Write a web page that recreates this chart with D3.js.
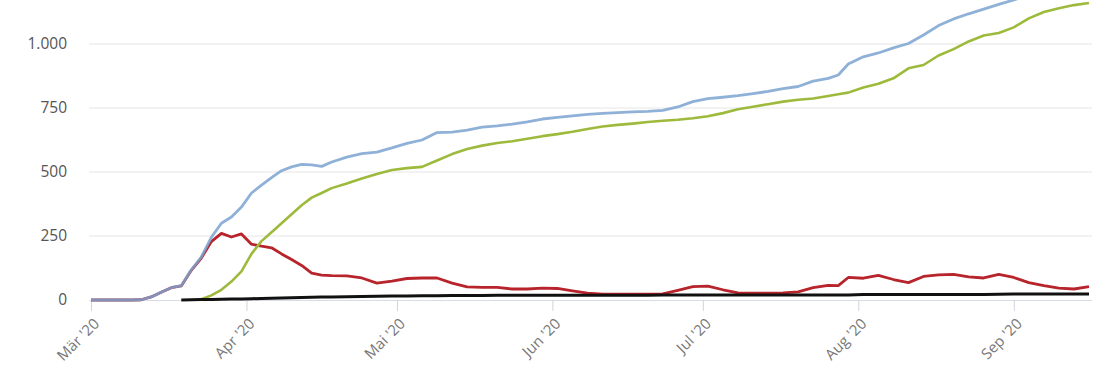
<!DOCTYPE html>
<html>
<head>
<meta charset="utf-8">
<script src="https://cdn.jsdelivr.net/npm/d3@7"></script>
<style>
  html, body { margin: 0; padding: 0; background: #fff; }
  svg { display: block; }
  text { font-family: "Open Sans", "Noto Sans", sans-serif; }
</style>
</head>
<body>
<svg id="chart" width="1110" height="370"></svg>
<script>
// ---- data ----
const dates = [
  "2020-03-01","2020-03-05","2020-03-09","2020-03-11","2020-03-13","2020-03-15","2020-03-17","2020-03-19","2020-03-21","2020-03-23",
  "2020-03-25","2020-03-27","2020-03-29","2020-03-31","2020-04-02","2020-04-04","2020-04-06","2020-04-08","2020-04-10","2020-04-12",
  "2020-04-14","2020-04-16","2020-04-18","2020-04-21","2020-04-24","2020-04-27","2020-04-30","2020-05-03","2020-05-06","2020-05-09",
  "2020-05-12","2020-05-15","2020-05-18","2020-05-21","2020-05-24","2020-05-27","2020-05-30","2020-06-02","2020-06-05","2020-06-08",
  "2020-06-11","2020-06-14","2020-06-17","2020-06-20","2020-06-23","2020-06-26","2020-06-29","2020-07-02","2020-07-05","2020-07-08",
  "2020-07-11","2020-07-14","2020-07-17","2020-07-20","2020-07-23","2020-07-26","2020-07-28","2020-07-30","2020-08-02","2020-08-05",
  "2020-08-08","2020-08-11","2020-08-14","2020-08-17","2020-08-20","2020-08-23","2020-08-26","2020-08-29","2020-09-01","2020-09-04",
  "2020-09-07","2020-09-10","2020-09-13","2020-09-16"
];

const totalCases = [
  0,0,0,1,12,30,48,56,118,168,
  245,300,324,363,418,449,478,505,520,530,
  528,522,539,558,572,578,594,612,625,654,
  656,664,675,680,687,696,707,713,719,725,
  729,732,735,737,741,754,775,787,792,798,
  806,815,826,834,855,866,879,922,950,965,
  985,1002,1035,1072,1098,1118,1136,1155,1172,1192,
  1212,1230,1248,1262
];

const recovered = [
  null,null,null,null,null,null,null,null,null,3,
  18,40,72,112,180,230,265,300,335,370,
  400,418,437,455,475,492,508,515,520,545,
  570,590,603,613,620,630,640,648,657,668,
  678,684,689,695,700,704,710,718,730,745,
  755,765,775,782,787,797,804,810,830,845,
  866,905,918,955,980,1010,1033,1043,1065,1100,
  1125,1140,1152,1160
];

const active = [
  0,0,0,1,12,30,48,55,116,164,
  228,260,246,258,218,210,204,180,158,135,
  105,97,95,94,86,66,74,84,86,86,
  66,51,49,49,43,43,46,45,36,27,
  23,23,23,23,24,38,52,54,40,28,
  27,27,28,32,48,57,56,88,85,96,
  80,68,92,98,100,90,86,100,88,68,
  56,46,43,52
];

const deaths = [
  null,null,null,null,null,null,null,0,1,2,
  2,3,4,4,5,6,7,8,9,10,
  11,12,12,13,14,15,16,16,17,17,
  18,18,18,19,19,19,19,19,19,19,
  19,19,19,19,20,20,20,20,20,20,
  20,20,20,20,20,20,20,20,21,21,
  21,21,21,21,21,21,21,22,23,23,
  23,23,23,23
];

const yTicks = [0, 250, 500, 750, 1000];
const monthTicks = ["2020-03-01","2020-04-01","2020-05-01","2020-06-01","2020-07-01","2020-08-01","2020-09-01"];
const monthLabels = ["Mär '20","Apr '20","Mai '20","Jun '20","Jul '20","Aug '20","Sep '20"];

// ---- chart ----
const parse = d3.utcParse("%Y-%m-%d");
const svg = d3.select("#chart");

const x = d3.scaleUtc()
  .domain([parse("2020-03-01"), parse("2020-09-16")])
  .range([91, 1089]);
const y = d3.scaleLinear().domain([0, 1000]).range([300, 44]);

const de = d3.formatLocale({decimal: ",", thousands: ".", grouping: [3], currency: ["", " €"]});
const fmt = de.format(",");

// gridlines
svg.append("g").selectAll("line").data(yTicks.filter(v => v > 0)).join("line")
  .attr("x1", 89).attr("x2", 1092)
  .attr("y1", d => y(d)).attr("y2", d => y(d))
  .attr("stroke", "#e6e6e6").attr("stroke-width", 1);

// y axis labels
const yAxis = d3.axisLeft(y).tickValues(yTicks).tickFormat(fmt).tickSize(0).tickPadding(0);
const gy = svg.append("g").attr("transform", "translate(67,0)").call(yAxis);
gy.select(".domain").remove();
gy.selectAll("text").attr("fill", "#555").attr("font-size", "15.5px")
  .attr("font-family", "'Open Sans', 'Noto Sans', sans-serif");

// x axis
const xAxis = d3.axisBottom(x)
  .tickValues(monthTicks.map(parse))
  .tickFormat((d, i) => monthLabels[i])
  .tickSize(11).tickSizeOuter(0);
const gx = svg.append("g").attr("transform", "translate(0,300)").call(xAxis);
gx.select(".domain").attr("d", "M89,0.5H1092").attr("stroke", "#d8dce6");
gx.selectAll(".tick line").attr("stroke", "#d0d4de");
gx.selectAll(".tick text")
  .attr("fill", "#777").attr("font-size", "15px")
  .attr("font-family", "'Open Sans', 'Noto Sans', sans-serif")
  .attr("text-anchor", "end")
  .attr("dy", "0.35em")
  .attr("transform", "translate(5,21) rotate(-45)")
  .attr("y", 0).attr("x", 0);

// lines
svg.append("clipPath").attr("id", "plotclip")
  .append("rect").attr("x", 85).attr("y", -20).attr("width", 1010).attr("height", 325);

const plot = svg.append("g").attr("clip-path", "url(#plotclip)");
const rows = dates.map((d, i) => ({
  date: parse(d), total: totalCases[i], rec: recovered[i], act: active[i], dead: deaths[i]
}));

function drawLine(key, color, width, opacity) {
  const line = d3.line()
    .defined(d => d[key] != null)
    .x(d => x(d.date)).y(d => y(d[key]))
    .curve(d3.curveLinear);
  plot.append("path").datum(rows)
    .attr("fill", "none").attr("stroke", color)
    .attr("stroke-width", width).attr("stroke-linejoin", "round")
    .attr("stroke-opacity", opacity)
    .attr("d", line);
}

drawLine("act", "#b8242b", 2.8, 1);
drawLine("rec", "#9dba3c", 2.6, 1);
drawLine("total", "#7ba3d0", 2.8, 0.85);
drawLine("dead", "#111111", 3, 1);
</script>
</body>
</html>
